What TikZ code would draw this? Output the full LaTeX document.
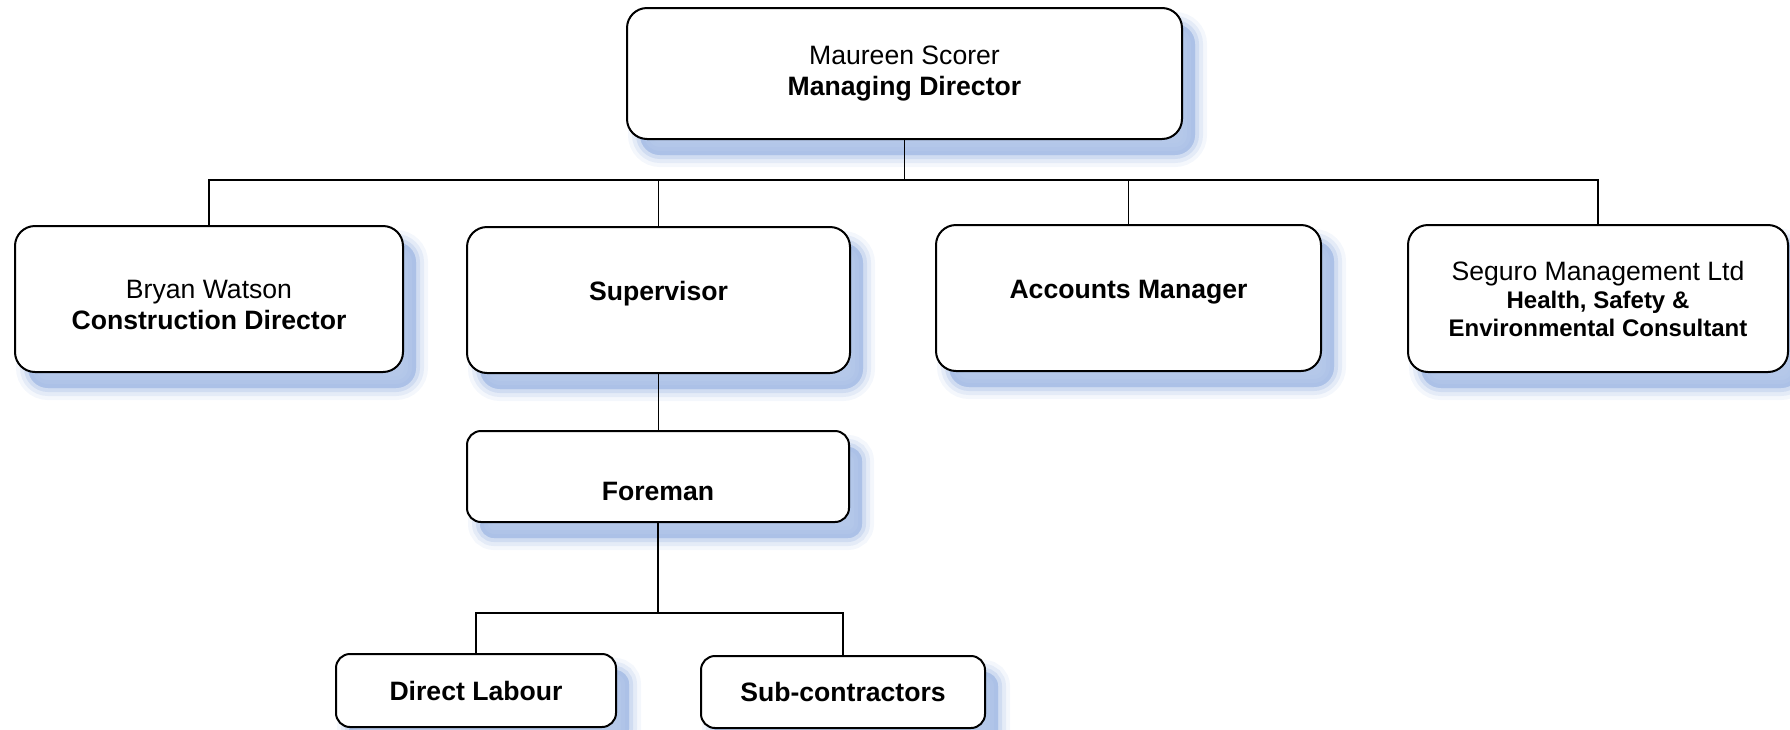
\documentclass[tikz,border=0pt]{standalone}
\usepackage{fontspec}
\setmainfont{Liberation Sans}
\usetikzlibrary{positioning,shadows}
\definecolor{shadowblue}{RGB}{163,187,228}

\begin{document}
\begin{tikzpicture}[x=0.5pt, y=-0.5pt,
    softshadow/.style={
      general shadow={shadow xshift=6.5pt, shadow yshift=-8pt, fill=shadowblue, draw=shadowblue, line width=12pt, opacity=0.12},
      general shadow={shadow xshift=6.5pt, shadow yshift=-8pt, fill=shadowblue, draw=shadowblue, line width=8pt, opacity=0.2},
      general shadow={shadow xshift=6.5pt, shadow yshift=-8pt, fill=shadowblue, draw=shadowblue, line width=4pt, opacity=0.3},
      general shadow={shadow xshift=6.5pt, shadow yshift=-8pt, fill=shadowblue, draw=none, opacity=0.6}},
    post/.style={draw, line width=1pt, fill=white, rounded corners=10pt, align=center,
      softshadow, font=\fontsize{13.3}{15.5}\selectfont},
    smallpost/.style={post, rounded corners=7pt},
    link/.style={line width=0.75pt}]
  \useasboundingbox (0,0) rectangle (1790,729);

  % top
  \node[post, minimum width=277.5pt, minimum height=65.5pt] (md) at (904.5,73.5)
    {Maureen Scorer\\\textbf{Managing Director}};

  % second row
  \node[post, minimum width=194pt, minimum height=73pt] (bw) at (209,299)
    {\rule{0pt}{15pt}Bryan Watson\\\textbf{Construction Director}};
  \node[post, minimum width=191.5pt, minimum height=73pt, text height=5pt, text depth=5pt] (sup) at (658.5,300)
    {\textbf{Supervisor}};
  \node[post, minimum width=192.5pt, minimum height=73pt, text height=5pt, text depth=5pt] (acc) at (1128.5,298)
    {\textbf{Accounts Manager}};
  \node[post, minimum width=190pt, minimum height=73.5pt] (seg) at (1598,298.5)
    {Seguro Management Ltd\\[-1.5pt]{\fontsize{12}{13.8}\selectfont\bfseries Health, Safety \&}\\[-1.5pt]
     {\fontsize{12}{13.8}\selectfont\bfseries Environmental Consultant}};

  % site
  \node[smallpost, minimum width=191pt, minimum height=45.5pt, text height=23.5pt, text depth=0pt] (fore) at (658,476.5)
    {\textbf{Foreman}};
  \node[smallpost, minimum width=140pt, minimum height=36.5pt] (dl) at (476,690.5)
    {\textbf{Direct Labour}};
  \node[smallpost, minimum width=142pt, minimum height=36pt] (sc) at (843,692)
    {\textbf{Sub-contractors}};

  % links
  \coordinate (topbus) at (md.south |- 0,180);
  \draw[link] (md.south) -- (topbus);
  \foreach \n in {bw, sup, acc, seg} {
    \draw[link] (topbus) -| (\n.north);
  };
  \draw[link] (sup.south) -- (sup.south |- fore.north);
  \coordinate (lowbus) at (fore.south |- 0,613);
  \draw[link] (fore.south) -- (lowbus);
  \foreach \n in {dl, sc} {
    \draw[link] (lowbus) -| (\n.north);
  };
\end{tikzpicture}
\end{document}
